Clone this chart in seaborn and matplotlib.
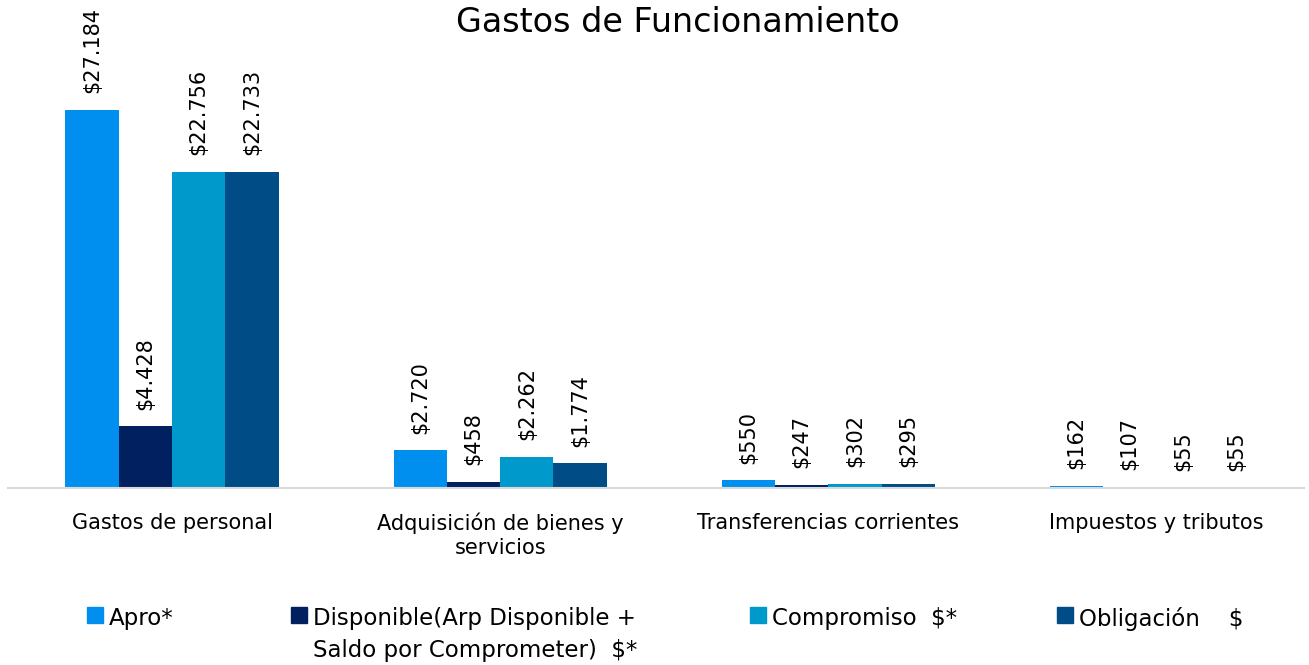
import matplotlib
matplotlib.use("Agg")
from matplotlib import pyplot as plt
from matplotlib.lines import Line2D
import seaborn as sns
import pandas as pd

categorias = ["Gastos de personal", "Adquisición de bienes y\nservicios",
              "Transferencias corrientes", "Impuestos y tributos"]
series = ["Apro*", "Disponible(Arp Disponible +\nSaldo por Comprometer)  $*",
          "Compromiso  $*", "Obligación    $"]
apro = [27184, 2720, 550, 162]
disponible = [4428, 458, 247, 107]
compromiso = [22756, 2262, 302, 55]
obligacion = [22733, 1774, 295, 55]
colores = ["#008FEF", "#002060", "#0099CC", "#004C87"]

rows = []
for serie, vals in zip(series, [apro, disponible, compromiso, obligacion]):
    for cat, v in zip(categorias, vals):
        rows.append({"categoria": cat, "serie": serie, "valor": v})
df = pd.DataFrame(rows)

sns.set_style("white")
plt.rcParams['font.family'] = ['DejaVu Sans']
plt.rcParams['text.color'] = 'black'
plt.rcParams['xtick.color'] = 'black'

fig = plt.figure(figsize=(13.09, 6.65), dpi=100)
ax = fig.add_axes([8 / 1309, 1 - 488 / 665, 1296 / 1309, 483 / 665])

sns.barplot(data=df, x="categoria", y="valor", hue="serie", order=categorias,
            hue_order=series, palette=colores, width=0.65, saturation=1,
            errorbar=None, ax=ax, legend=False, linewidth=0, edgecolor="none")

def fmt(v):
    return "$" + "{:,}".format(v).replace(",", ".")

for cont, vals in zip(ax.containers, [apro, disponible, compromiso, obligacion]):
    ax.bar_label(cont, labels=[fmt(v) for v in vals], rotation=90, padding=12,
                 fontsize=15, color="black")

ax.set_xlim(-0.5, 3.45)
ax.set_ylim(0, 27184 * 483 / 378)
ax.set_xlabel("")
ax.set_ylabel("")
ax.set_yticks([])
for s in ["top", "right", "left"]:
    ax.spines[s].set_visible(False)
ax.spines["bottom"].set_color("#d9d9d9")
ax.spines["bottom"].set_linewidth(1.5)
ax.tick_params(axis="x", length=0, pad=18, labelsize=15)

fig.text(0.518, 0.966, "Gastos de Funcionamiento", ha="center", va="center", fontsize=24)

# legend entries placed like the original grid
pos_x = [84, 288, 747, 1054]
for serie, color, px in zip(series, colores, pos_x):
    h = Line2D([], [], marker="s", linestyle="", color=color, markersize=11)
    leg = fig.legend([h], [serie], loc="upper left", bbox_to_anchor=(px / 1309, 1 - 607 / 665),
                     frameon=False, fontsize=16.5, handletextpad=0.1, handlelength=1.0,
                     borderaxespad=0, borderpad=0)
    for t in leg.get_texts():
        t.set_linespacing(1.5)
    # put the square next to the first line of text
    for col in leg._legend_handle_box.get_children():
        for row in col.get_children():
            row.align = "top"

fig.savefig("out.png", dpi=100, facecolor="w")
